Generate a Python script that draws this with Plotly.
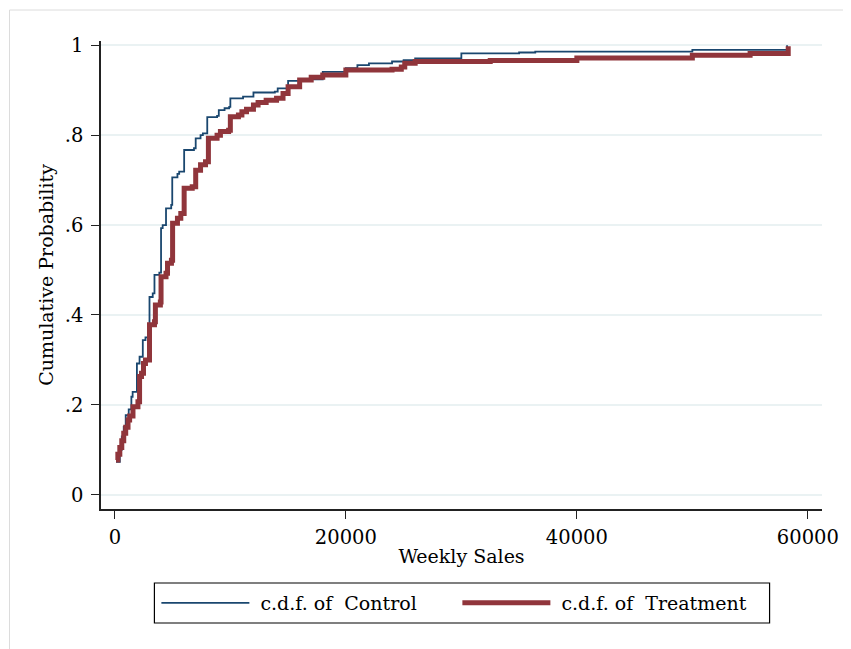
import plotly.graph_objects as go

# Step points of the empirical c.d.f.s (weekly sales, cumulative probability)
control_sales = [100, 430, 600, 770, 940, 1200, 1430, 1540, 1910, 2140, 2420, 2650,
                 3000, 3280, 3430, 3850, 4000, 4140, 4430, 4880, 4970, 5420, 5570,
                 6000, 6850, 7000, 7420, 7620, 8000, 8850, 9000, 9500, 9900, 10000,
                 11100, 12000, 13850, 14100, 14900, 15000, 16000, 18000, 20000,
                 21000, 22000, 24000, 25000, 26000, 30000, 35000, 36400, 50000, 58200]
control_prob = [0.073, 0.100, 0.130, 0.151, 0.177, 0.190, 0.218, 0.229, 0.292, 0.307,
                0.344, 0.350, 0.440, 0.448, 0.489, 0.494, 0.593, 0.600, 0.637, 0.645,
                0.706, 0.714, 0.719, 0.767, 0.771, 0.793, 0.800, 0.804, 0.840, 0.843,
                0.856, 0.860, 0.863, 0.882, 0.886, 0.895, 0.897, 0.904, 0.908, 0.921,
                0.924, 0.941, 0.949, 0.956, 0.960, 0.964, 0.967, 0.971, 0.982, 0.984,
                0.986, 0.990, 1.000]

treat_sales = [100, 260, 430, 600, 770, 940, 1140, 1280, 1570, 2000, 2140, 2310, 2480,
               2650, 3000, 3430, 3510, 3940, 4000, 4430, 4560, 4900, 5000, 5420, 5710,
               6000, 6700, 7000, 7420, 7850, 8100, 8850, 9140, 9850, 10000, 10700,
               11000, 11400, 12000, 12400, 13100, 14000, 14560, 15000, 16000, 17000,
               18000, 20000, 24000, 24800, 25100, 26000, 32500, 40000, 50000, 55000,
               58300]
treat_prob = [0.077, 0.090, 0.105, 0.120, 0.137, 0.150, 0.166, 0.175, 0.196, 0.207,
              0.263, 0.270, 0.292, 0.300, 0.378, 0.385, 0.422, 0.429, 0.485, 0.493,
              0.515, 0.522, 0.604, 0.615, 0.626, 0.682, 0.685, 0.722, 0.734, 0.741,
              0.793, 0.800, 0.808, 0.811, 0.841, 0.845, 0.852, 0.858, 0.867, 0.873,
              0.878, 0.882, 0.893, 0.908, 0.923, 0.929, 0.934, 0.945, 0.947, 0.952,
              0.960, 0.964, 0.966, 0.972, 0.978, 0.982, 0.998]

x_ticks = [0, 20000, 40000, 60000]
x_tick_labels = ["0", "20000", "40000", "60000"]
y_ticks = [0, 0.2, 0.4, 0.6, 0.8, 1.0]
y_tick_labels = ["0", ".2", ".4", ".6", ".8", "1"]

FONT = "DejaVu Serif"
OFF = 8  # page body margin
W, H = 851 - OFF, 649 - OFF
L, T = 101 - OFF, 41 - OFF
PR, PB = 830 - OFF, 509 - OFF
R, B = W - PR, H - PB
PW, PH = PR - L, PB - T


def px_x(p):
    """page x pixel -> paper fraction"""
    return (p - OFF - L) / PW


def px_y(p):
    """page y pixel -> paper fraction"""
    return (PB - (p - OFF)) / PH


fig = go.Figure()
fig.add_trace(go.Scatter(
    x=control_sales, y=control_prob, mode="lines", line_shape="hv",
    line=dict(color="#1a476f", width=1.8), name="\u00a0c.d.f. of\u00a0 Control"))
fig.add_trace(go.Scatter(
    x=treat_sales, y=treat_prob, mode="lines", line_shape="hv",
    line=dict(color="#90353b", width=5), name="\u00a0c.d.f. of\u00a0 Treatment"))

# outer light frame (top and left edges visible)
fig.add_shape(type="rect", xref="paper", yref="paper",
              x0=px_x(8.5), x1=px_x(900), y0=px_y(700), y1=px_y(10),
              line=dict(color="#dcdcdc", width=1), layer="below")
# legend box
fig.add_shape(type="rect", xref="paper", yref="paper",
              x0=px_x(155), x1=px_x(777), y0=px_y(623), y1=px_y(583),
              line=dict(color="black", width=1.2))

fig.update_layout(
    width=W, height=H,
    margin=dict(l=L, r=R, t=T, b=B),
    paper_bgcolor="white", plot_bgcolor="white",
    font=dict(family=FONT, size=19, color="black"),
    showlegend=True,
    legend=dict(orientation="h", x=px_x(157), xanchor="left",
                y=px_y(603), yanchor="middle",
                font=dict(family=FONT, size=19),
                itemwidth=88, entrywidth=198,
                bgcolor="rgba(0,0,0,0)", borderwidth=0),
    xaxis=dict(range=[-1199, 61225], tickvals=x_ticks, ticktext=x_tick_labels,
               showgrid=False, zeroline=False, showline=True, linecolor="#222",
               linewidth=1.5, ticks="outside", ticklen=8, tickwidth=1.2,
               tickcolor="#222", tickfont=dict(size=19.5), ticklabelstandoff=2,
               title=dict(text="Weekly Sales", font=dict(size=19), standoff=2)),
    yaxis=dict(range=[-0.0318, 1.0096], tickvals=y_ticks, ticktext=y_tick_labels,
               showgrid=True, gridcolor="#eaf2f3", gridwidth=1.5, zeroline=False,
               showline=True, linecolor="#222", linewidth=1.5, ticks="outside",
               ticklen=8, tickwidth=1.2, tickcolor="#222", tickfont=dict(size=19.5),
               ticklabelstandoff=4,
               title=dict(text="Cumulative Probability", font=dict(size=19),
                          standoff=6)),
)

fig.write_html("out.html")
